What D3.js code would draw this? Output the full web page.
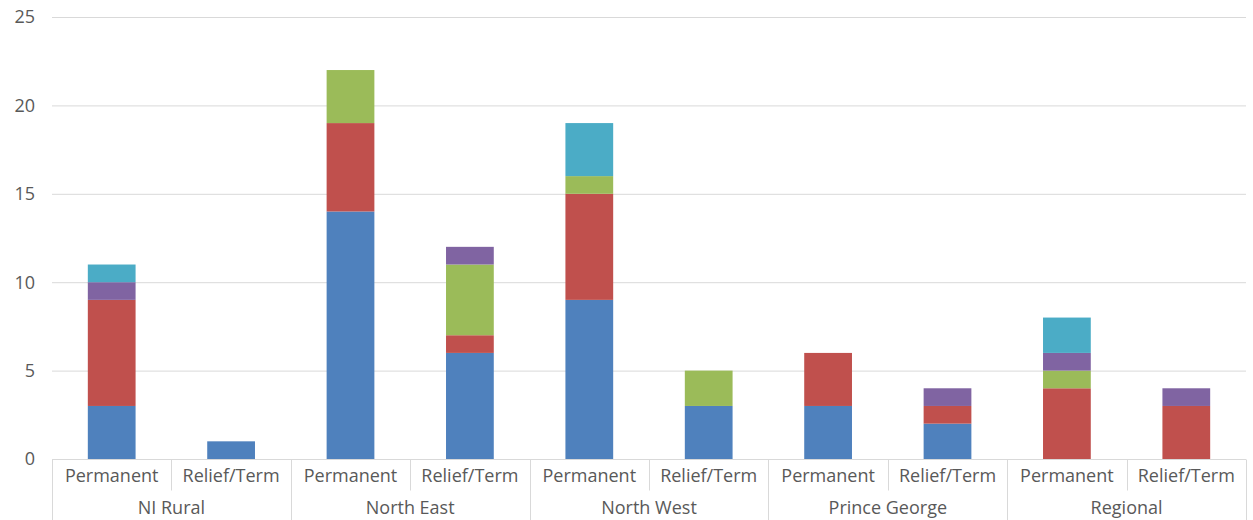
<!DOCTYPE html>
<html>
<head>
<meta charset="utf-8">
<script src="https://cdn.jsdelivr.net/npm/d3@7"></script>
<style>
  body { margin: 0; background: #fff; }
  text { font-family: "Open Sans", "Liberation Sans", sans-serif; fill: #595959; }
</style>
</head>
<body>
<script>
'use strict';

// regions and job types (two level category axis)
const regions = ["NI Rural", "North East", "North West", "Prince George", "Regional"];
const jobTypes = ["Permanent", "Relief/Term"];

// one value per bar, in the order region x jobType
const seriesBlue   = [3, 1, 14, 6, 9, 3, 3, 2, 0, 0];
const seriesRed    = [6, 0, 5, 1, 6, 0, 3, 1, 4, 3];
const seriesGreen  = [0, 0, 3, 4, 1, 2, 0, 0, 1, 0];
const seriesPurple = [1, 0, 0, 1, 0, 0, 0, 1, 1, 1];
const seriesCyan   = [1, 0, 0, 0, 3, 0, 0, 0, 2, 0];

const yTicks = [0, 5, 10, 15, 20, 25];

(function() {
  let width = 1253, height = 520;
  let margin = { left: 52, right: 7, top: 17, bottom: 61 };

  let svg = d3.select('body').append('svg')
    .attr('width', width)
    .attr('height', height);

  // build rows for the stack
  let keys = ["blue", "red", "green", "purple", "cyan"];
  let colors = { blue: "#4F81BD", red: "#C0504D", green: "#9BBB59", purple: "#8064A2", cyan: "#4BACC6" };
  let lists = { blue: seriesBlue, red: seriesRed, green: seriesGreen, purple: seriesPurple, cyan: seriesCyan };

  let rows = [];
  regions.forEach((r, i) => {
    jobTypes.forEach((j, k) => {
      let idx = i * jobTypes.length + k;
      let row = { id: r + "|" + j, region: r, job: j };
      keys.forEach((key) => row[key] = lists[key][idx]);
      rows.push(row);
    });
  });

  let x = d3.scaleBand()
    .domain(rows.map((d) => d.id))
    .range([margin.left, width - margin.right])
    .paddingInner(0.6)
    .paddingOuter(0.3);

  let y = d3.scaleLinear()
    .domain([0, 25])
    .range([height - margin.bottom, margin.top]);

  // gridlines
  svg.append('g')
    .selectAll('line')
    .data(yTicks)
    .enter().append('line')
    .attr('x1', margin.left)
    .attr('x2', width - margin.right)
    .attr('y1', (d) => y(d) + 0.5)
    .attr('y2', (d) => y(d) + 0.5)
    .style('stroke', '#d9d9d9')
    .style('stroke-width', 1);

  // y labels
  svg.append('g')
    .selectAll('text')
    .data(yTicks)
    .enter().append('text')
    .attr('x', 35)
    .attr('y', (d) => y(d))
    .attr('dy', '0.35em')
    .style('text-anchor', 'end')
    .style('font-size', '18px')
    .text((d) => d);

  // stacked bars
  let stack = d3.stack().keys(keys)(rows);
  svg.append('g')
    .selectAll('g')
    .data(stack)
    .enter().append('g')
    .style('fill', (d) => colors[d.key])
    .selectAll('rect')
    .data((d) => d)
    .enter().append('rect')
    .attr('x', (d) => x(d.data.id))
    .attr('width', x.bandwidth())
    .attr('y', (d) => y(d[1]))
    .attr('height', (d) => y(d[0]) - y(d[1]));

  // category axis: lines + labels
  let step = x.step();
  let x0 = margin.left, x1 = width - margin.right;
  let axisY = y(0) + 0.5;
  let axis = svg.append('g');
  axis.append('line')
    .attr('x1', x0).attr('x2', x1)
    .attr('y1', axisY).attr('y2', axisY)
    .style('stroke', '#d9d9d9');

  // separators: every band boundary; group boundaries run to the bottom
  let bounds = d3.range(rows.length + 1);
  axis.selectAll('.sep')
    .data(bounds)
    .enter().append('line')
    .attr('class', 'sep')
    .attr('x1', (i) => Math.round(x0 + i * step) + 0.5)
    .attr('x2', (i) => Math.round(x0 + i * step) + 0.5)
    .attr('y1', axisY)
    .attr('y2', (i) => i % jobTypes.length == 0 ? height : axisY + 31)
    .style('stroke', '#d9d9d9');

  axis.selectAll('.sub')
    .data(rows)
    .enter().append('text')
    .attr('x', (d) => x(d.id) + x.bandwidth() / 2)
    .attr('y', axisY + 16)
    .attr('dy', '0.35em')
    .style('text-anchor', 'middle')
    .style('font-size', '18px')
    .text((d) => d.job);

  axis.selectAll('.grp')
    .data(regions)
    .enter().append('text')
    .attr('x', (d, i) => x0 + (i + 0.5) * step * jobTypes.length)
    .attr('y', axisY + 48)
    .attr('dy', '0.35em')
    .style('text-anchor', 'middle')
    .style('font-size', '18px')
    .text((d) => d);
})();
</script>
</body>
</html>
